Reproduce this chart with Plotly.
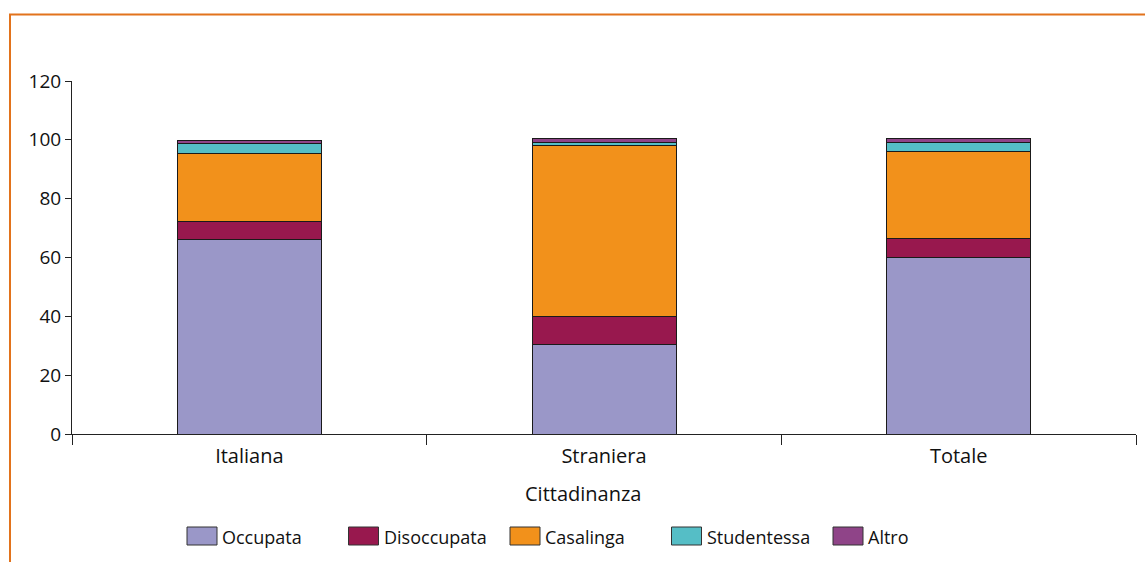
import plotly.graph_objects as go

# Condizione professionale per cittadinanza (%)
categorie = ["Italiana", "Straniera", "Totale"]
occupata = [66.2, 30.3, 59.9]
disoccupata = [6.0, 9.5, 6.4]
casalinga = [23.3, 58.2, 29.9]
studentessa = [3.4, 1.2, 3.0]
altro = [0.8, 1.1, 1.1]

serie = [
    ("Occupata", occupata, "#9a97c8"),
    ("Disoccupata", disoccupata, "#98184e"),
    ("Casalinga", casalinga, "#f2911b"),
    ("Studentessa", studentessa, "#55bec6"),
    ("Altro", altro, "#8f4488"),
]
titolo_x = "Cittadinanza"

W, H = 1145, 562
ML, MR, MT, MB = 72, 9, 81, 128
PW, PH = W - ML - MR, H - MT - MB


def px_x(px):
    return (px - ML) / PW


def px_y(py):
    return (H - MB - py) / PH


fig = go.Figure()
for nome, valori, colore in serie:
    fig.add_trace(go.Bar(
        x=categorie, y=valori, name=nome,
        marker=dict(color=colore, line=dict(color="#1a1a1a", width=1)),
        width=0.406, showlegend=False,
    ))

# orange frame around the figure
shapes = [dict(
    type="rect", xref="paper", yref="paper",
    x0=px_x(10), x1=px_x(1160), y0=px_y(600), y1=px_y(14.5),
    line=dict(color="#e2731c", width=2), fillcolor="rgba(0,0,0,0)",
    layer="below",
)]

# x-axis title
annotations = [dict(
    text=titolo_x, xref="paper", yref="paper",
    x=px_x(583), y=px_y(494), xanchor="center", yanchor="middle",
    showarrow=False, font=dict(size=20, color="#111111"),
)]

# legend row: swatch + label for each series
leg_x0, leg_step = 187, 161.5
for i, (nome, _, colore) in enumerate(serie):
    x0 = leg_x0 + i * leg_step
    shapes.append(dict(
        type="rect", xref="paper", yref="paper",
        x0=px_x(x0), x1=px_x(x0 + 30), y0=px_y(545), y1=px_y(527),
        line=dict(color="#333333", width=1), fillcolor=colore,
    ))
    annotations.append(dict(
        text=nome, xref="paper", yref="paper",
        x=px_x(x0 + 33), y=px_y(537), xanchor="left", yanchor="middle",
        showarrow=False, font=dict(size=18, color="#111111"),
    ))

fig.update_layout(
    barmode="stack",
    width=W, height=H,
    margin=dict(l=ML, r=MR, t=MT, b=MB, autoexpand=False),
    paper_bgcolor="white", plot_bgcolor="white",
    font=dict(family="Open Sans", size=18, color="#111111"),
    showlegend=False,
    shapes=shapes,
    annotations=annotations,
)

fig.update_xaxes(
    showline=True, linecolor="#222222", linewidth=1,
    ticks="outside", tickson="boundaries", ticklen=10, tickcolor="#222222",
    tickfont=dict(size=20), ticklabelstandoff=4,
    showgrid=False,
)
fig.update_yaxes(
    range=[0, 120], dtick=20,
    showline=True, linecolor="#222222", linewidth=1,
    ticks="outside", ticklen=6, tickcolor="#222222",
    tickfont=dict(size=19),
    showgrid=False, zeroline=False,
)

fig.write_html("out.html")
